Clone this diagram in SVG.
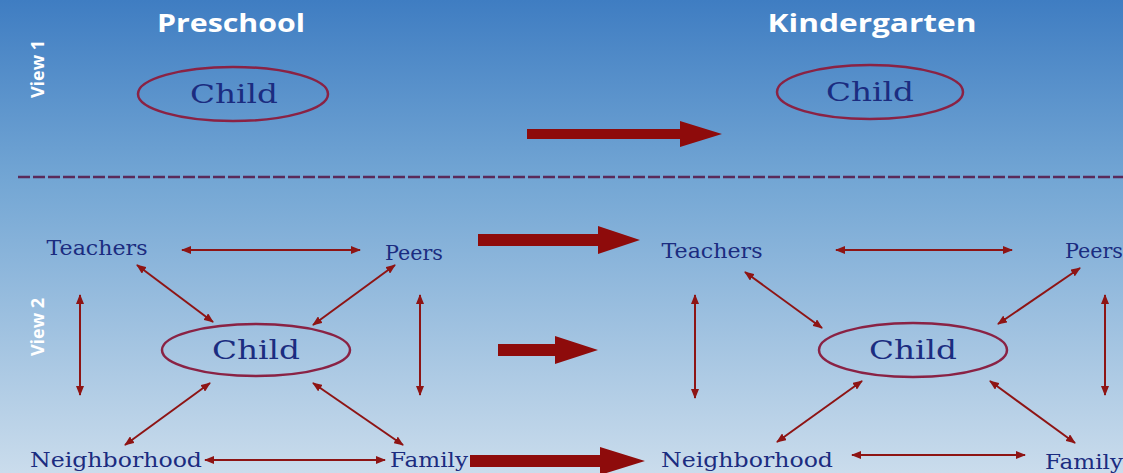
<svg xmlns="http://www.w3.org/2000/svg" width="1123" height="473" viewBox="0 0 1123 473">
<defs>
<linearGradient id="bg" x1="0" y1="0" x2="0" y2="1">
<stop offset="0" stop-color="#3f7dc2"/>
<stop offset="0.38" stop-color="#73a6d4"/>
<stop offset="1" stop-color="#cadcec"/>
</linearGradient>
<marker id="ah" viewBox="0 0 10 8" refX="9" refY="4" markerWidth="10" markerHeight="8" markerUnits="userSpaceOnUse" orient="auto-start-reverse">
<path d="M0,0 L10,4 L0,8 z" fill="#8e1414"/>
</marker>
<style>
.title{font-family:"Open Sans","DejaVu Sans",sans-serif;font-weight:bold;fill:#ffffff;font-size:25px}
.view{font-family:"Open Sans","DejaVu Sans",sans-serif;font-weight:bold;fill:#ffffff;font-size:18px}
.lbl{font-family:"DejaVu Serif","Liberation Serif",serif;fill:#1b2c80;font-size:20px}
.child{font-family:"DejaVu Serif","Liberation Serif",serif;fill:#1b2c80;font-size:26px}
.ell{fill:none;stroke:#8a2244;stroke-width:2.5}
.con line{stroke:#8e1414;stroke-width:2;marker-start:url(#ah);marker-end:url(#ah)}
.big{fill:#8e0b0b}
.dash{stroke:#5a2a5a;stroke-width:2.5;stroke-dasharray:12 3}
</style>
</defs>
<rect width="1123" height="473" fill="url(#bg)"/>

<text class="title" x="231" y="32" text-anchor="middle" textLength="148" lengthAdjust="spacingAndGlyphs">Preschool</text>
<text class="title" x="872" y="32" text-anchor="middle" textLength="209" lengthAdjust="spacingAndGlyphs">Kindergarten</text>
<text class="view" transform="translate(44,69) rotate(-90)" text-anchor="middle">View 1</text>
<text class="view" transform="translate(44,327) rotate(-90)" text-anchor="middle">View 2</text>

<line class="dash" x1="18" y1="177" x2="1123" y2="177"/>

<g id="v1-pre-child">
<ellipse class="ell" cx="233" cy="94" rx="95" ry="27"/>
<text class="child" x="234" y="103" text-anchor="middle" textLength="88" lengthAdjust="spacingAndGlyphs">Child</text>
</g>
<g id="v1-kg-child">
<ellipse class="ell" cx="870" cy="92" rx="93" ry="27"/>
<text class="child" x="870" y="101" text-anchor="middle" textLength="88" lengthAdjust="spacingAndGlyphs">Child</text>
</g>

<g id="p-teachers"><text class="lbl" x="97" y="255" text-anchor="middle" textLength="101" lengthAdjust="spacingAndGlyphs">Teachers</text></g>
<g id="p-peers"><text class="lbl" x="414" y="260" text-anchor="middle" textLength="58" lengthAdjust="spacingAndGlyphs">Peers</text></g>
<g id="p-child">
<ellipse class="ell" cx="256" cy="350" rx="94" ry="26"/>
<text class="child" x="256" y="359" text-anchor="middle" textLength="88" lengthAdjust="spacingAndGlyphs">Child</text>
</g>
<g id="p-neighborhood"><text class="lbl" x="116" y="467" text-anchor="middle" textLength="172" lengthAdjust="spacingAndGlyphs">Neighborhood</text></g>
<g id="p-family"><text class="lbl" x="429" y="467" text-anchor="middle" textLength="78" lengthAdjust="spacingAndGlyphs">Family</text></g>

<g id="k-teachers"><text class="lbl" x="712" y="258" text-anchor="middle" textLength="101" lengthAdjust="spacingAndGlyphs">Teachers</text></g>
<g id="k-peers"><text class="lbl" x="1094" y="258" text-anchor="middle" textLength="58" lengthAdjust="spacingAndGlyphs">Peers</text></g>
<g id="k-child">
<ellipse class="ell" cx="913" cy="350" rx="94" ry="27"/>
<text class="child" x="913" y="359" text-anchor="middle" textLength="88" lengthAdjust="spacingAndGlyphs">Child</text>
</g>
<g id="k-neighborhood"><text class="lbl" x="747" y="467" text-anchor="middle" textLength="172" lengthAdjust="spacingAndGlyphs">Neighborhood</text></g>
<g id="k-family"><text class="lbl" x="1084" y="469" text-anchor="middle" textLength="78" lengthAdjust="spacingAndGlyphs">Family</text></g>

<g id="connectors">
<g class="con">
<line x1="182" y1="250" x2="360" y2="250"/>
<line x1="137" y1="265" x2="213" y2="322"/>
<line x1="395" y1="265" x2="313" y2="325"/>
<line x1="80" y1="295" x2="80" y2="395"/>
<line x1="420" y1="295" x2="420" y2="395"/>
<line x1="210" y1="383" x2="125" y2="445"/>
<line x1="313" y1="383" x2="403" y2="445"/>
<line x1="205" y1="460" x2="385" y2="460"/>

<line x1="836" y1="250" x2="1012" y2="250"/>
<line x1="745" y1="272" x2="822" y2="328"/>
<line x1="1080" y1="268" x2="998" y2="324"/>
<line x1="695" y1="295" x2="695" y2="398"/>
<line x1="1105" y1="295" x2="1105" y2="395"/>
<line x1="862" y1="381" x2="777" y2="442"/>
<line x1="990" y1="381" x2="1075" y2="443"/>
<line x1="852" y1="455" x2="1025" y2="455"/>
</g>
<polygon class="big" points="527,129 680,129 680,121 722,134 680,147 680,139 527,139"/>
<polygon class="big" points="478,234 598,234 598,226 640,240 598,254 598,246 478,246"/>
<polygon class="big" points="498,344 555,344 555,336 598,350 555,364 555,356 498,356"/>
<polygon class="big" points="470,455 600,455 600,447 645,461 600,475 600,467 470,467"/>
</g>
</svg>
